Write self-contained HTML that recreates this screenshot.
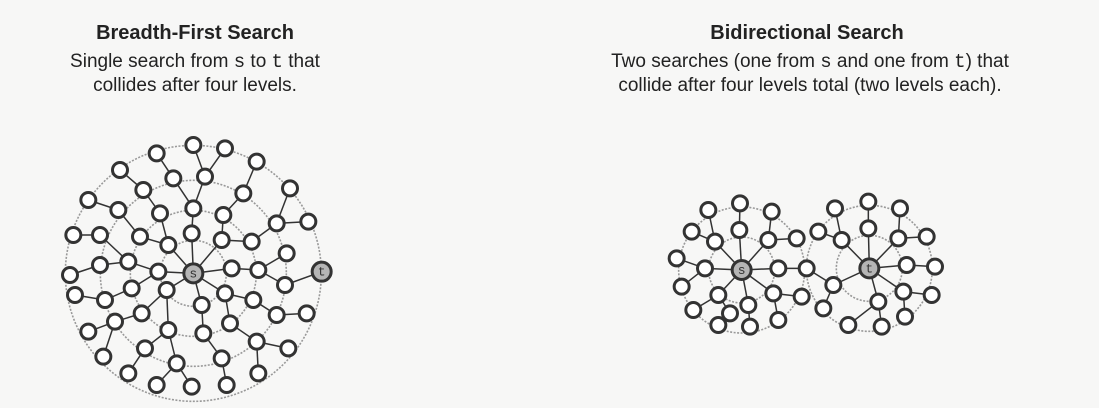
<!DOCTYPE html>
<html><head><meta charset="utf-8"><style>
body{margin:0;width:1099px;height:408px;background:#f7f7f6;font-family:"Liberation Sans",sans-serif;color:#222;overflow:hidden;position:relative}
.t{position:absolute;text-align:center;font-weight:bold;font-size:20px}
.d{position:absolute;text-align:center;font-size:19px;line-height:24px}
code{font-family:"Liberation Mono",monospace;font-size:19px}
svg{position:absolute;left:0;top:0}
</style></head><body>
<div class="t" style="left:45px;width:300px;top:22px">Breadth-First Search</div>
<div class="d" style="left:20px;width:350px;top:50px">Single search from <code>s</code> to <code>t</code> that<br>collides after four levels.</div>
<div class="t" style="left:657px;width:300px;top:22px">Bidirectional Search</div>
<div class="d" style="left:540px;width:540px;top:50px">Two searches (one from <code>s</code> and one from <code>t</code>) that<br>collide after four levels total (two levels each).</div>
<svg id="g" width="1099" height="408"></svg>
<script>
const leftNodes=[[430,45],[525,55],[320,70],[620,95],[210,120],[370,145],[465,140],[720,175],[280,180],[580,190],[115,210],[205,240],[330,250],[430,235],[520,255],[680,280],[775,275],[70,315],[150,315],[270,320],[425,310],[515,330],[605,335],[355,345],[710,370],[60,435],[150,405],[235,395],[325,425],[545,415],[625,420],[705,465],[75,495],[165,510],[245,475],[350,480],[455,525],[525,490],[610,510],[680,555],[770,550],[115,605],[195,575],[275,550],[355,600],[460,610],[540,580],[620,635],[715,655],[160,680],[285,655],[380,700],[515,685],[235,730],[320,765],[425,770],[530,765],[625,730]];
const leftS=[430,430],leftT=[815,425];
const rightS=[245,270],rightT=[628,265];
const rightA=[[145,90],[240,70],[335,95],[95,155],[238,150],[165,185],[325,180],[410,175],[50,235],[135,265],[355,265],[440,265],[65,320],[175,345],[265,375],[340,340],[425,350],[100,390],[175,435],[270,440],[355,420],[210,400]];
const rightB=[[525,85],[625,65],[720,85],[475,155],[625,145],[545,180],[715,175],[800,170],[740,255],[825,260],[520,315],[730,335],[815,345],[655,365],[735,410],[490,385],[565,435],[665,440]];
const svg=document.getElementById('g'),NS='http://www.w3.org/2000/svg';
function mk(t,a){const e=document.createElementNS(NS,t);for(const k in a)e.setAttribute(k,a[k]);svg.appendChild(e);return e;}
function tr(p,ox,oy){return [p[0]/3+ox,p[1]/3+oy];}
function tree(nodes,root,ox,oy,rings){
  const c=tr(root,ox,oy);
  rings.forEach(r=>{const e=mk('circle',{cx:c[0],cy:c[1],r:r,fill:'none',stroke:'#999','stroke-width':1.6,'stroke-dasharray':'2 1.5'});
  
  });
  const P=nodes.map(p=>tr(p,ox,oy));
  const dist=p=>Math.hypot(p[0]-c[0],p[1]-c[1]);
  const all=[c].concat(P);
  P.forEach(p=>{let best=null,bd=1e9;const dp=dist(p);
    all.forEach(q=>{const dq=dist(q);if(dq<dp-10){const d=Math.hypot(p[0]-q[0],p[1]-q[1]);if(d<bd){bd=d;best=q;}}});
    if(best){const l=mk('line',{x1:p[0],y1:p[1],x2:best[0],y2:best[1],stroke:'#333','stroke-width':1.5});
    
    }});
  return P;
}
function node(p,fill,lab){const e=mk('circle',{cx:p[0],cy:p[1],r:lab?9.5:7.5,fill:fill,stroke:'#333','stroke-width':3});
  
  
  if(lab){const t=mk('text',{x:p[0],y:p[1]+4,'text-anchor':'middle','font-size':13,'font-family':'Liberation Mono,monospace',fill:'#333'});t.textContent=lab;
  
  }}
const L=tree(leftNodes,leftS,50,130,[33,63,93,128]);
const lt=tr(leftT,50,130),l24=tr([705,465],50,130);
mk('line',{x1:lt[0],y1:lt[1],x2:l24[0],y2:l24[1],stroke:'#333','stroke-width':1.5});
const RA=tree(rightA,rightS,660,180,[33,63]);
const RB=tree(rightB,rightT,660,180,[33,63]);
const a=tr([440,265],660,180),b=tr([520,315],660,180);
mk('line',{x1:a[0],y1:a[1],x2:b[0],y2:b[1],stroke:'#333','stroke-width':1.5});
L.concat(RA,RB).forEach(p=>node(p,'#fff'));
node(tr(leftS,50,130),'#b5b5b5','s');node(lt,'#b5b5b5','t');
node(tr(rightS,660,180),'#b5b5b5','s');node(tr(rightT,660,180),'#b5b5b5','t');
</script>
</body></html>
